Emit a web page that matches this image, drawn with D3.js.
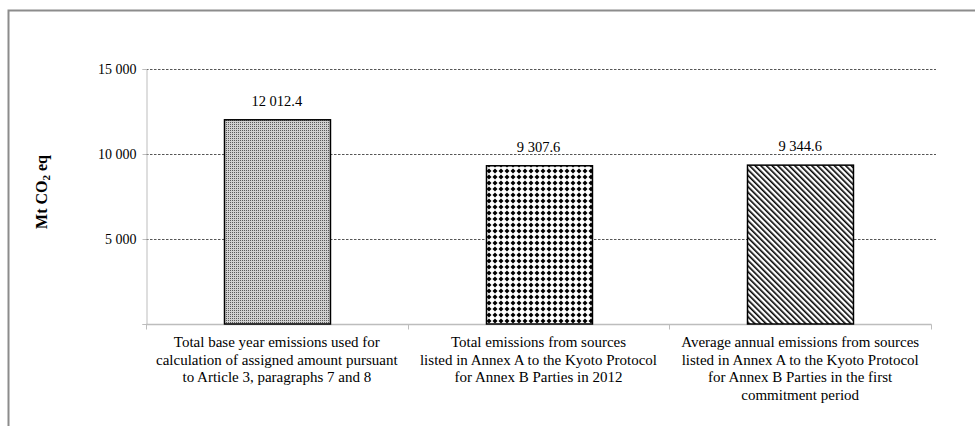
<!DOCTYPE html>
<html><head><meta charset="utf-8">
<script src="https://cdn.jsdelivr.net/npm/d3@7"></script>
<style>body{margin:0;background:#fff}svg{display:block}svg text{font-family:"Liberation Serif","Times New Roman",serif}</style>
</head><body>
<svg id="c" width="975" height="426"></svg>
<script>
const categories = [
  ["Total base year emissions used for","calculation of assigned amount pursuant","to Article 3, paragraphs 7 and 8"],
  ["Total emissions from sources","listed in Annex A to the Kyoto Protocol","for Annex B Parties in 2012"],
  ["Average annual emissions from sources","listed in Annex A to the Kyoto Protocol","for Annex B Parties in the first","commitment period"]
];
const values = [12012.4, 9307.6, 9344.6];
const valueLabels = ["12 012.4", "9 307.6", "9 344.6"];
const yTicks = [5000, 10000, 15000];
const yTickLabels = ["5 000", "10 000", "15 000"];
const patterns = ["pFine", "pDots", "pDiag"];

const svg = d3.select("#c");
const defs = svg.append("defs");
// fine grey dots
const p1 = defs.append("pattern").attr("id","pFine").attr("patternUnits","userSpaceOnUse").attr("width",2).attr("height",2);
p1.append("rect").attr("width",2).attr("height",2).attr("fill","#d0d0d0");
p1.append("rect").attr("width",1).attr("height",1).attr("fill","#5a5a5a");
// large dots
const p2 = defs.append("pattern").attr("id","pDots").attr("patternUnits","userSpaceOnUse").attr("width",6).attr("height",6).attr("x",486).attr("y",0);
p2.append("rect").attr("width",6).attr("height",6).attr("fill","#fff");
p2.append("path").attr("d","M3,0.5 L5.5,3 L3,5.5 L0.5,3 Z").attr("fill","#000");
// diagonal lines
const p3 = defs.append("pattern").attr("id","pDiag").attr("patternUnits","userSpaceOnUse").attr("width",4).attr("height",4).attr("patternTransform","rotate(-45)");
p3.append("rect").attr("width",4).attr("height",4).attr("fill","#fff");
p3.append("rect").attr("width",1.6).attr("height",4).attr("fill","#000");

// outer frame
svg.append("path").attr("d","M8.5,426 V10.5 H975").attr("fill","none").attr("stroke","#8c8c8c").attr("stroke-width",2);

const x0 = 146, x1 = 931, yTop = 69, yBot = 324;
const x = d3.scaleBand().domain(d3.range(values.length)).range([x0, x1]).paddingInner(0.595).paddingOuter(0.2975);
const y = d3.scaleLinear().domain([0, 15000]).range([yBot, yTop]);

// gridlines
svg.append("g").selectAll("line").data(yTicks).join("line")
  .attr("x1", x0).attr("x2", 936).attr("y1", d => Math.round(y(d))+0.5).attr("y2", d => Math.round(y(d))+0.5)
  .attr("stroke","#555").attr("stroke-dasharray","2.5,1.5").attr("stroke-width",1);

// y axis
const yAxis = d3.axisLeft(y).tickValues([0, ...yTicks]).tickFormat((d,i) => i===0 ? "" : yTickLabels[i-1]).tickSize(4).tickPadding(6);
const gy = svg.append("g").attr("transform",`translate(${x0+0.5},0)`).call(yAxis);
gy.attr("font-family",null);
gy.select(".domain").attr("stroke","#bdbdbd").attr("d",`M-4,${yTop}.5H0.5V${yBot}.5H-4`);
gy.selectAll(".tick line").attr("stroke","#bdbdbd");
gy.selectAll(".tick text").attr("font-size",14).attr("fill","#000");

// x axis
const gx = svg.append("g").attr("transform",`translate(0,${yBot+0.5})`);
gx.append("line").attr("x1",x0).attr("x2",x1+0.5).attr("stroke","#bdbdbd").attr("stroke-width",1.5);
const bounds = [x0, ...values.map((d,i)=> x(i)+x.bandwidth()/2 + x.step()/2)];
gx.selectAll("line.t").data(bounds).join("line").attr("class","t")
  .attr("x1",d=>Math.round(d)+0.5).attr("x2",d=>Math.round(d)+0.5).attr("y1",0).attr("y2",5).attr("stroke","#bdbdbd");

// bars
svg.append("g").selectAll("rect").data(values).join("rect")
  .attr("x",(d,i)=>Math.round(x(i))+0.5).attr("width",x.bandwidth())
  .attr("y",d=>y(d)).attr("height",d=>yBot-y(d))
  .attr("fill",(d,i)=>`url(#${patterns[i]})`).attr("stroke","#000").attr("stroke-width",1.5);

// value labels
svg.append("g").selectAll("text").data(values).join("text")
  .attr("x",(d,i)=>x(i)+x.bandwidth()/2).attr("y",d=>y(d)-14)
  .attr("text-anchor","middle").attr("font-size",14.5).attr("fill","#000")
  .text((d,i)=>valueLabels[i]);

// category labels
const cl = svg.append("g").selectAll("text").data(categories).join("text")
  .attr("x",(d,i)=>x(i)+x.bandwidth()/2).attr("y",347)
  .attr("text-anchor","middle").attr("font-size",15).attr("fill","#000");
cl.selectAll("tspan").data(d=>d).join("tspan")
  .attr("x",function(){return this.parentNode.getAttribute("x");})
  .attr("dy",(d,i)=>i===0?0:17.5).text(d=>d);

// y title
const yt = svg.append("text").attr("transform","translate(47,192) rotate(-90)")
  .attr("text-anchor","middle").attr("font-size",16).attr("font-weight","bold");
yt.append("tspan").text("Mt CO");
yt.append("tspan").attr("font-size",11).attr("dy",3).text("2");
yt.append("tspan").attr("dy",-3).text(" eq");
</script>
</body></html>
